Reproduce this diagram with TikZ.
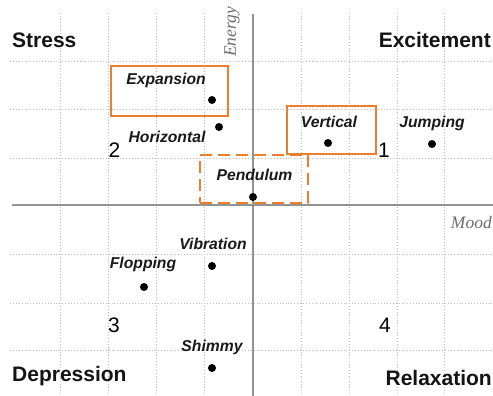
\documentclass[tikz,border=0pt]{standalone}
\usepackage{fontspec}
\setmainfont{Liberation Sans}
\newfontfamily\serifit{Liberation Serif}
\definecolor{orangeC}{RGB}{237,125,49}
\begin{document}
\begin{tikzpicture}[x=1pt,y=-1pt,
 gridline/.style={draw=gray!50, dotted, line width=0.9pt},
 axisline/.style={draw=gray!85, line width=1.3pt},
 quad/.style={font=\bfseries\fontsize{21}{23}\selectfont, text=black!92, inner sep=0},
 lab/.style={font=\bfseries\itshape\fontsize{15.7}{17}\selectfont, text=black!90, inner sep=0},
 num/.style={font=\fontsize{21}{23}\selectfont, inner sep=0},
 dotpt/.style={circle, fill=black, inner sep=0, minimum size=8pt},
 obox/.style={draw=orangeC, line width=2.3pt, inner sep=0},
 axlab/.style={font=\serifit\itshape\fontsize{17.5}{19}\selectfont, text=gray!85!black, inner sep=0}]
\useasboundingbox (0,0) rectangle (493,396);
% grid
\foreach \gx in {60,108,156,204,301,349,397,444} \draw[gridline] (\gx,13) -- (\gx,396);
\foreach \gy in {61,109,158,254,303,350} \draw[gridline] (10,\gy) -- (493,\gy);
% axes
\coordinate (vtop) at (253,14);
\coordinate (vbot) at (253,396);
\coordinate (hleft) at (12,205);
\coordinate (hright) at (493,205);
\draw[axisline] (vtop) -- (vbot);
\draw[axisline] (hleft) -- (hright);
\node[axlab, rotate=90] (energy) at (232,32) {Energy};
\node[axlab, anchor=east] (mood) at (492,223) {Mood};
% quadrant labels
\node[quad, anchor=west] (stress) at (12,40) {Stress};
\node[quad, anchor=east] (excite) at (491,40) {Excitement};
\node[quad, anchor=west] (depr) at (12,376) {Depression};
\node[quad, anchor=east] (relax) at (492,378) {Relaxation};
% numbers
\node[num] (n1) at (384,150) {1};
\node[num] (n2) at (114.5,150) {2};
\node[num] (n3) at (114,325) {3};
\node[num] (n4) at (385,325) {4};
% boxes
\node[obox, minimum width=117pt, minimum height=50pt] (bexp) at (169.5,91) {};
\node[obox, minimum width=89pt, minimum height=48pt] (bver) at (331.5,130) {};
\node[obox, dash pattern=on 12pt off 6pt, minimum width=108pt, minimum height=48pt] (bpen) at (254,179) {};
% labels and dots
\node[lab] (lexp) at (166,80) {Expansion};
\node[dotpt] (dexp) at (212,100) {};
\node[lab] (lhor) at (167,137) {Horizontal};
\node[dotpt] (dhor) at (219,127) {};
\node[lab] (lver) at (329,122) {Vertical};
\node[dotpt] (dver) at (328,143) {};
\node[lab] (ljum) at (432,123) {Jumping};
\node[dotpt] (djum) at (432,144) {};
\node[lab] (lpen) at (254.5,175) {Pendulum};
\node[dotpt] (dpen) at (253,197) {};
\node[lab] (lvib) at (213,244) {Vibration};
\node[dotpt] (dvib) at (212,266) {};
\node[lab] (lflo) at (143,264) {Flopping};
\node[dotpt] (dflo) at (144,287) {};
\node[lab] (lshi) at (212,347) {Shimmy};
\node[dotpt] (dshi) at (212,368) {};
\end{tikzpicture}
\end{document}
